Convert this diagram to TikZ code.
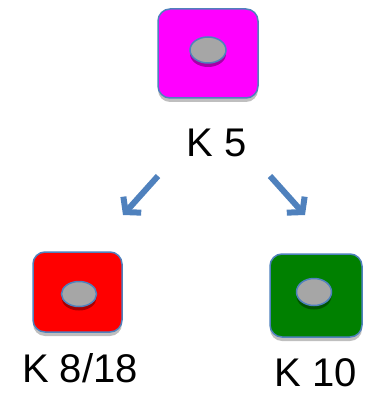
\documentclass[tikz,border=0pt]{standalone}
\usepackage{fontspec}
\setmainfont{Liberation Sans}
\usetikzlibrary{arrows.meta,shadows,shapes.geometric}
\definecolor{pblue}{HTML}{4F81BD}
\definecolor{dotgray}{HTML}{A6A6A6}
\definecolor{kgreen}{HTML}{008000}
\definecolor{kmag}{HTML}{FF00FF}
\definecolor{kred}{HTML}{FF0000}
\tikzset{
  sqbox/.style={draw=pblue, line width=1.5pt, rounded corners=12pt, inner sep=0pt,
    drop shadow={shadow xshift=0pt, shadow yshift=-4pt, opacity=0.25, fill=black}},
  dot/.style={ellipse, draw=pblue, line width=1.5pt, fill=dotgray, minimum width=36pt, minimum height=26pt, inner sep=0pt,
    drop shadow={shadow xshift=0pt, shadow yshift=-4pt, opacity=0.35, fill=black}},
  lbl/.style={font=\fontsize{40}{40}\selectfont, anchor=base, inner sep=0pt, text depth=0pt},
  barrow/.style={draw=pblue, line width=6pt, -{Straight Barb[length=10pt,width=24pt]}},
}
\begin{document}
\begin{tikzpicture}[x=1pt,y=-1pt]
\useasboundingbox (0,0) rectangle (365,395);
\node[sqbox, fill=kmag, minimum width=100pt, minimum height=89pt] (top) at (208,53.5) {};
\node[dot] (topdot) at (208,50) {};
\node[sqbox, fill=kred, minimum width=89pt, minimum height=80pt] (left) at (77.5,292) {};
\node[dot, minimum width=35pt, minimum height=25pt] (leftdot) at (79,294) {};
\node[sqbox, fill=kgreen, minimum width=92pt, minimum height=83pt] (right) at (316,295.5) {};
\node[dot, minimum width=35pt, minimum height=27pt] (rightdot) at (314,292) {};
\node[lbl] (tlab) at (216.5,157) {K 5};
\node[lbl] (llab) at (80,382) {K 8/18};
\node[lbl] (rlab) at (315.5,386) {K 10};
\coordinate (a1s) at (158,176);
\coordinate (a1e) at (123,215);
\coordinate (a2s) at (270,176);
\coordinate (a2e) at (305,215);
\draw[barrow] (a1s) -- (a1e);
\draw[barrow] (a2s) -- (a2e);
\end{tikzpicture}
\end{document}
